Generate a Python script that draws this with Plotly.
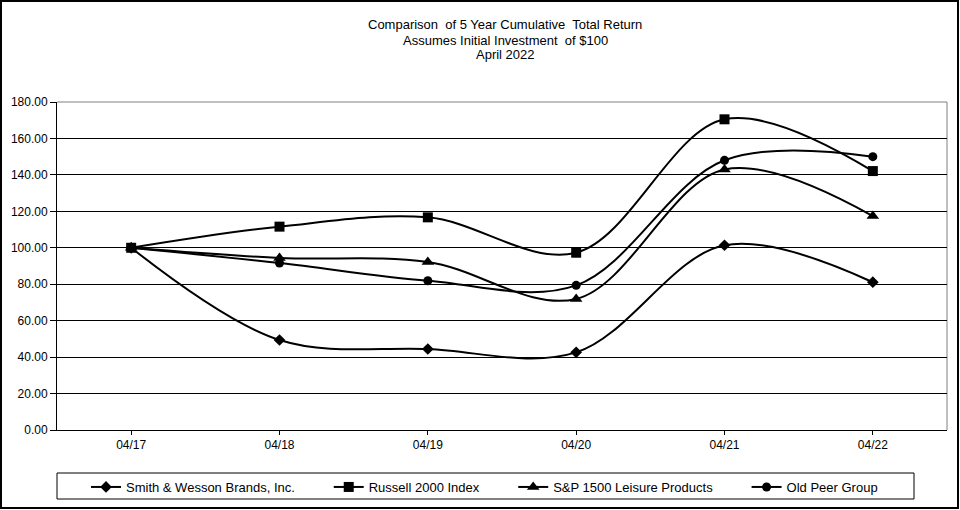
import plotly.graph_objects as go

categories = ["04/17", "04/18", "04/19", "04/20", "04/21", "04/22"]
smith_wesson = [100.00, 49.40, 44.45, 42.60, 101.40, 81.10]
russell_2000 = [100.00, 111.60, 116.70, 97.30, 170.50, 142.10]
sp1500_leisure = [100.00, 94.40, 92.20, 71.90, 143.00, 117.40]
old_peer = [100.00, 91.60, 81.90, 79.40, 148.00, 150.00]
title_lines = [
    "Comparison  of 5 Year Cumulative  Total Return",
    "Assumes Initial Investment  of $100",
    "April 2022",
]

series = [
    ("Smith & Wesson Brands, Inc.", smith_wesson, "diamond", 9),
    ("Russell 2000 Index", russell_2000, "square", 10),
    ("S&P 1500 Leisure Products", sp1500_leisure, "triangle-up", 11),
    ("Old Peer Group", old_peer, "circle", 9),
]

FONT = "Liberation Sans, Arial, sans-serif"
PAD = "\u00a0" * 8

fig = go.Figure()
for name, vals, sym, sz in series:
    fig.add_trace(go.Scatter(
        x=categories, y=vals, name=name + PAD, mode="lines+markers",
        line=dict(color="black", width=2, shape="spline"),
        marker=dict(symbol=sym, size=sz, color="black"),
    ))

W, H = 960, 510
L, R, T, B = 57, 947, 102, 430
pw, ph = R - L, B - T

def px_x(x):
    return (x - L) / pw

def px_y(y):
    return (B - y) / ph

title_y = [24, 40, 55]
annotations = [
    dict(text=t, xref="paper", yref="paper", x=px_x(505), y=px_y(yy),
         xanchor="center", yanchor="middle", showarrow=False,
         font=dict(family=FONT, size=13, color="black"))
    for t, yy in zip(title_lines, title_y)
]

fig.update_layout(
    width=W, height=H,
    margin=dict(l=L, r=W - R, t=T, b=H - B, pad=0, autoexpand=False),
    paper_bgcolor="white", plot_bgcolor="white",
    showlegend=True,
    legend=dict(
        orientation="h", x=px_x(86), xanchor="left", y=px_y(472), yanchor="top",
        borderwidth=0, bgcolor="rgba(0,0,0,0)",
        font=dict(family=FONT, size=13, color="black"),
        itemwidth=30, entrywidth=0,
        itemclick=False,
    ),
    xaxis=dict(
        type="category", range=[-0.5, 5.5], showgrid=False,
        showline=True, linecolor="black", linewidth=1,
        ticks="outside", ticklen=4, tickcolor="black",
        tickfont=dict(family=FONT, size=12, color="black"),
        zeroline=False,
    ),
    yaxis=dict(
        range=[0, 180], dtick=20, tickformat=".2f",
        showgrid=True, gridcolor="black", gridwidth=1,
        showline=True, linecolor="black", linewidth=1,
        ticks="outside", ticklen=6, tickcolor="black",
        tickfont=dict(family=FONT, size=12, color="black"),
        zeroline=False,
    ),
    annotations=annotations,
    shapes=[
        dict(type="line", xref="paper", yref="paper", x0=0, x1=1, y0=1, y1=1,
             line=dict(color="#808080", width=1), layer="between"),
        dict(type="line", xref="paper", yref="paper", x0=1, x1=1, y0=0, y1=1,
             line=dict(color="#808080", width=1), layer="between"),
        dict(type="rect", xref="paper", yref="paper",
             x0=px_x(57), x1=px_x(914), y0=px_y(473), y1=px_y(499),
             line=dict(color="black", width=1), fillcolor="rgba(0,0,0,0)"),
        dict(type="rect", xref="paper", yref="paper",
             x0=px_x(1), x1=px_x(958), y0=px_y(1), y1=px_y(508),
             line=dict(color="black", width=2), fillcolor="rgba(0,0,0,0)"),
    ],
)

fig.write_html("out.html", config={"displayModeBar": False},
               post_script="document.body.style.margin='0';")
